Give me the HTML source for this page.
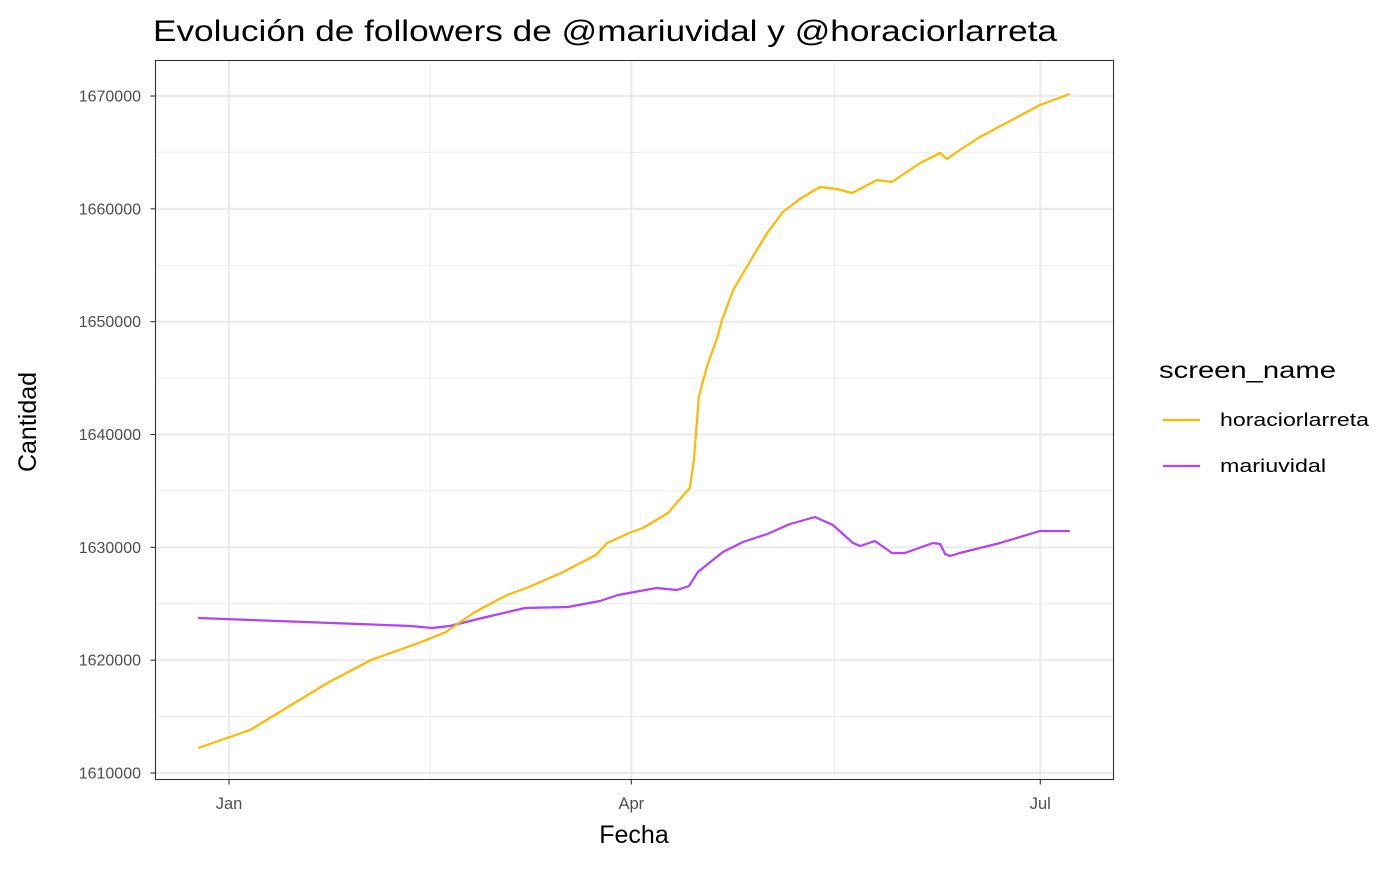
<!DOCTYPE html>
<html><head><meta charset="utf-8"><style>
html,body{margin:0;padding:0;background:#fff;}
svg text{font-family:"Liberation Sans",sans-serif;}
</style></head><body>
<svg id="chart" width="1400" height="865" xmlns="http://www.w3.org/2000/svg">
<text x="153" y="41" font-size="30" textLength="904" lengthAdjust="spacingAndGlyphs" fill="#000">Evolución de followers de @mariuvidal y @horaciorlarreta</text>
<g id="grid"></g>
<g id="series"></g>
<rect x="155.5" y="60.5" width="958" height="719" fill="none" stroke="#333" stroke-width="1.1"/>
<g id="axes"></g>
<text x="634" y="843" font-size="25" text-anchor="middle">Fecha</text>
<text transform="translate(36,422) rotate(-90)" font-size="25" text-anchor="middle">Cantidad</text>
<g>
<text x="1159" y="378" font-size="23" textLength="177" lengthAdjust="spacingAndGlyphs">screen_name</text>
<g>
<line x1="1163" y1="420" x2="1200" y2="420" stroke="#FFB800" stroke-width="2.2"/>
<text x="1220" y="426" font-size="18.5" textLength="149" lengthAdjust="spacingAndGlyphs">horaciorlarreta</text></g>
<g>
<line x1="1163" y1="466" x2="1200" y2="466" stroke="#B140FF" stroke-width="2.2"/>
<text x="1220" y="472" font-size="18.5" textLength="106" lengthAdjust="spacingAndGlyphs">mariuvidal</text></g>
</g>
</svg>
<script>
const yTicks = [1610000,1620000,1630000,1640000,1650000,1660000,1670000];
const xTickDays = [0,90,181.5];
const xTickLabels = ["Jan","Apr","Jul"];
const xMinorDays = [45,135.5];
const horacioDays = [-6.9,4.7,22.4,31.8,43.0,48.5,55.0,62.2,67.1,74.3,82.1,84.6,89.5,92.6,98.2,100.7,103.1,104.0,105.1,106.9,109.2,110.3,112.8,117.0,120.4,123.9,127.7,132.2,136.0,139.4,145.0,148.3,154.6,159.1,160.6,163.5,168.0,181.4,188.1];
const horacioValues = [1612216,1613811,1618065,1620015,1621611,1622497,1624269,1625776,1626485,1627726,1629321,1630385,1631271,1631714,1633044,1634196,1635260,1637741,1643325,1645984,1648554,1650149,1652808,1655644,1657860,1659721,1660874,1661937,1661760,1661405,1662558,1662380,1664064,1664951,1664419,1665216,1666369,1669205,1670180];
const mariuDays = [-6.9,40.7,45.4,49.4,56.6,66.2,75.8,83.0,87.0,95.7,100.2,102.9,104.9,107.4,110.5,115.0,120.4,125.5,131.1,135.1,139.6,141.2,144.5,148.3,151.2,157.5,159.1,160.2,161.3,163.5,172.5,181.4,188.1];
const mariuValues = [1623738,1623029,1622851,1623029,1623738,1624624,1624713,1625244,1625776,1626397,1626219,1626574,1627815,1628612,1629587,1630474,1631183,1632069,1632689,1631980,1630385,1630119,1630562,1629499,1629499,1630385,1630296,1629410,1629233,1629499,1630385,1631448,1631448];

const NS="http://www.w3.org/2000/svg";
const X0=155.5, X1=1113.5, Y0=60.5, Y1=779.5;
function xs(d){return 229 + d*4.47;}
function ys(v){return 773 - (v-1610000)/10000*112.83;}
function mk(tag,attrs,parent){const e=document.createElementNS(NS,tag);for(const k in attrs)e.setAttribute(k,attrs[k]);parent.appendChild(e);return e;}
const grid=document.getElementById('grid'), axes=document.getElementById('axes'), series=document.getElementById('series');
for(let i=0;i<yTicks.length-1;i++){
  const vm=yTicks[i]+5000;
  const l=mk('line',{x1:X0,x2:X1,y1:ys(vm),y2:ys(vm),stroke:'#ebebeb','stroke-width':1},grid);
  
  
}
xMinorDays.forEach(d=>{const l=mk('line',{x1:xs(d),x2:xs(d),y1:Y0,y2:Y1,stroke:'#ebebeb','stroke-width':1},grid);
  
  });
yTicks.forEach(v=>{const y=ys(v);
  const l=mk('line',{x1:X0,x2:X1,y1:y,y2:y,stroke:'#ebebeb','stroke-width':2.2},grid);
  
  
  const t=mk('line',{x1:X0-5,x2:X0,y1:y,y2:y,stroke:'#333','stroke-width':1.1},axes);
  
  
  const tx=mk('text',{x:141,y:y+5.5,'font-size':16,fill:'#4d4d4d','text-anchor':'end'},axes);
  tx.textContent=String(v);
  
  
});
xTickDays.forEach((d,i)=>{const x=xs(d);
  const l=mk('line',{x1:x,x2:x,y1:Y0,y2:Y1,stroke:'#ebebeb','stroke-width':2.2},grid);
  
  
  const t=mk('line',{x1:x,x2:x,y1:Y1,y2:Y1+5,stroke:'#333','stroke-width':1.1},axes);
  
  
  const tx=mk('text',{x:x,y:809,'font-size':16.5,fill:'#4d4d4d','text-anchor':'middle'},axes);
  tx.textContent=xTickLabels[i];
  
  
});
function line(days,vals,color,name){
  const p=days.map((d,i)=>xs(d).toFixed(1)+','+ys(vals[i]).toFixed(1)).join(' ');
  const e=mk('polyline',{points:p,fill:'none',stroke:color,'stroke-width':2.2,'stroke-linejoin':'round'},series);
  
  
}
line(mariuDays,mariuValues,'#B140FF','line-mariuvidal');
line(horacioDays,horacioValues,'#FFB800','line-horaciorlarreta');
</script>
</body></html>
